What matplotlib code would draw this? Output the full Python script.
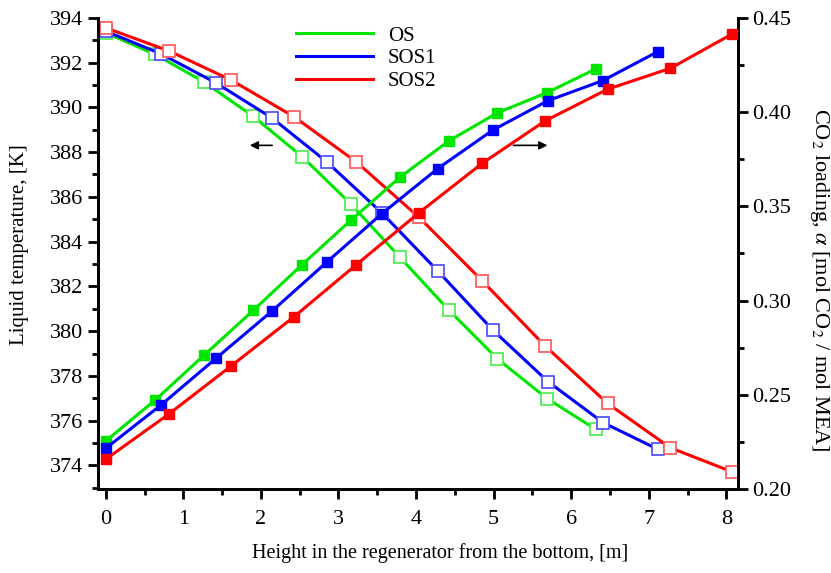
import matplotlib
matplotlib.use('Agg')
import matplotlib.pyplot as plt
from matplotlib.lines import Line2D
from matplotlib.ticker import MultipleLocator

plt.rcParams['font.family'] = ['Liberation Serif', 'DejaVu Serif']
plt.rcParams['mathtext.fontset'] = 'stix'

# height in regenerator [m]
x_os = [0, 0.64, 1.27, 1.90, 2.53, 3.16, 3.79, 4.42, 5.05, 5.69, 6.32]
x_sos1 = [0, 0.71, 1.42, 2.14, 2.85, 3.56, 4.28, 4.99, 5.70, 6.41, 7.12]
x_sos2 = [0, 0.82, 1.62, 2.43, 3.23, 4.04, 4.85, 5.66, 6.47, 7.28, 8.08]

# liquid temperature [K]
T_os = [393.33, 392.36, 391.12, 389.60, 387.80, 385.68, 383.31, 380.95, 378.76, 376.99, 375.61]
T_sos1 = [393.40, 392.39, 391.09, 389.53, 387.56, 385.28, 382.69, 380.05, 377.75, 375.92, 374.72]
T_sos2 = [393.55, 392.51, 391.21, 389.57, 387.56, 385.08, 382.26, 379.35, 376.77, 374.79, 373.71]

# CO2 loading [mol CO2 / mol MEA]
a_os = [0.2255, 0.2473, 0.2711, 0.2947, 0.3190, 0.3426, 0.3653, 0.3846, 0.3996, 0.4103, 0.4229]
a_sos1 = [0.2216, 0.2445, 0.2693, 0.2943, 0.3204, 0.3461, 0.3700, 0.3904, 0.4060, 0.4167, 0.4321]
a_sos2 = [0.2158, 0.2400, 0.2654, 0.2915, 0.3190, 0.3466, 0.3727, 0.3952, 0.4121, 0.4232, 0.4415]

names = ['OS', 'SOS1', 'SOS2']
colors = ['#00e600', '#0000ff', '#ff0000']
open_edge = ['#55ee55', '#5555ff', '#ff6060']
xs = [x_os, x_sos1, x_sos2]
Ts = [T_os, T_sos1, T_sos2]
alphas = [a_os, a_sos1, a_sos2]

fig = plt.figure(figsize=(8.31, 5.73), dpi=100)
ax = fig.add_axes([0.118, 0.1466, 0.770, 0.8224])
ax2 = ax.twinx()

for x, T, a, c, ce in zip(xs, Ts, alphas, colors, open_edge):
    ax.plot(x, T, color=c, lw=2.2, marker='s', ms=9, mfc='white',
            mec=ce, mew=1.3, zorder=3)
    ax2.plot(x, a, color=c, lw=2.2, marker='s', ms=7, mfc=c, mec=c, zorder=3)

ax.set_xlim(-0.1, 8.15)
ax.set_ylim(372.95, 394)
ax2.set_ylim(0.20, 0.45)

ax.xaxis.set_major_locator(MultipleLocator(1))
ax.xaxis.set_minor_locator(MultipleLocator(0.5))
ax.yaxis.set_major_locator(MultipleLocator(2))
ax.yaxis.set_minor_locator(MultipleLocator(1))
ax2.yaxis.set_major_locator(MultipleLocator(0.05))
ax2.yaxis.set_minor_locator(MultipleLocator(0.025))
ax2.yaxis.set_major_formatter(plt.FormatStrFormatter('%.2f'))

for a_ in (ax, ax2):
    a_.spines['top'].set_visible(False)
    for s in ('left', 'right', 'bottom'):
        a_.spines[s].set_linewidth(2)
    a_.tick_params(which='major', direction='out', length=7, width=2, labelsize=16)
    a_.tick_params(which='minor', direction='out', length=4, width=2)
ax.tick_params(axis='x', which='major', pad=8)

ax.set_xlabel('Height in the regenerator from the bottom, [m]', fontsize=14.5, va='center')
ax.xaxis.set_label_coords(0.534, -0.136)
ax.set_ylabel('Liquid temperature, [K]', fontsize=15, va='center')
ax.yaxis.set_label_coords(-0.122, 0.518)
ax2.set_ylabel(r'CO$_2$ loading, $\alpha$ [mol CO$_2$ / mol MEA]', fontsize=16,
               rotation=270, va='center')
ax2.yaxis.set_label_coords(1.128, 0.444)

# arrows pointing to the relevant axis
ax.annotate('', xy=(1.82, 388.3), xytext=(2.18, 388.3),
            arrowprops=dict(arrowstyle='-|>', color='black', lw=1.2, mutation_scale=12))
ax.annotate('', xy=(5.73, 388.3), xytext=(5.22, 388.3),
            arrowprops=dict(arrowstyle='-|>', color='black', lw=1.2, mutation_scale=12))

handles = [Line2D([], [], color=c, lw=2.2) for c in colors]
ax.legend(handles, names, loc='upper left', bbox_to_anchor=(0.28, 1.022),
          frameon=False, fontsize=15, handlelength=3.7, handletextpad=0.7,
          labelspacing=0.15)

fig.savefig('out.png', dpi=100)
